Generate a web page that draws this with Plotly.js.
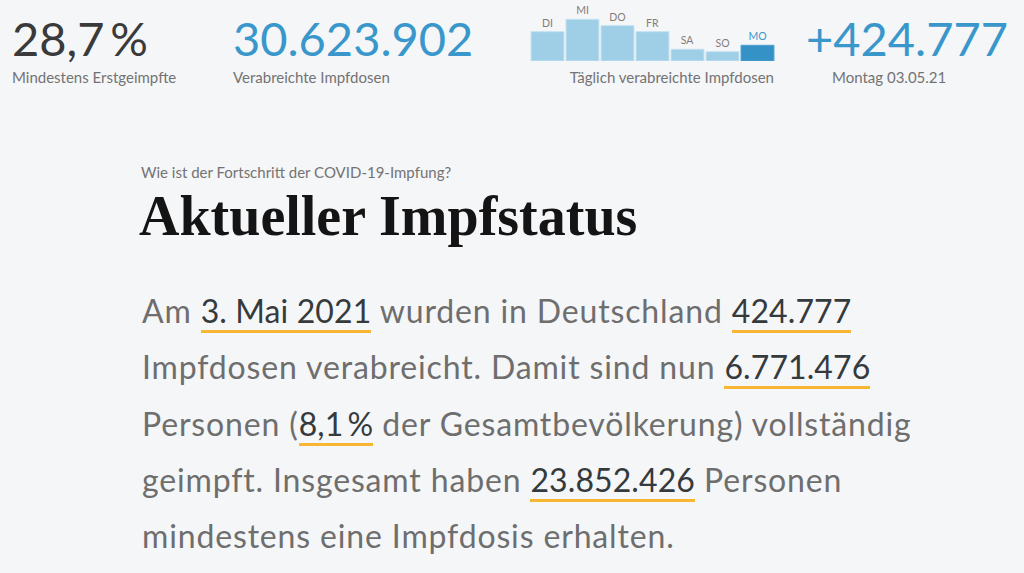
<!DOCTYPE html>
<html>
<head>
<meta charset="utf-8">
<script src="https://cdn.plot.ly/plotly-3.0.1.min.js"></script>
<style>
  html, body { margin: 0; padding: 0; background: #f5f6f8; }
  body { width: 1024px; height: 573px; position: relative; overflow: hidden; font-family: Lato, "Open Sans", sans-serif; color: #6e6e6e; }
  .abs { position: absolute; white-space: nowrap; line-height: 1; }
  .big { font-size: 47px; }
  .lbl { font-size: 15px; color: #737373; }
  .blue { color: #3997cb; }
  .dark { color: #3a3a3a; }
  #daily { position: absolute; left: 530px; top: 0; width: 245px; height: 62px; }
  #kicker { font-size: 15px; color: #737373; }
  #headline { font-family: "Liberation Serif", serif; font-weight: bold; font-size: 56px; color: #141414; letter-spacing: 0; }
  #story { position: absolute; left: 142px; top: 283px; font-size: 32px; letter-spacing: 0.85px; line-height: 56.3px; white-space: nowrap; color: #6e6e6e; }
  #story .hl { color: #353a3d; border-bottom: 3px solid #f7b733; letter-spacing: 0.1px; }
</style>
</head>
<body>
<div class="abs big dark" style="left:12px; top:15px;">28,7&thinsp;%</div>
<div class="abs lbl" style="left:12px; top:70px;">Mindestens Erstgeimpfte</div>
<div class="abs big blue" style="left:233px; top:15px;">30.623.902</div>
<div class="abs lbl" style="left:233px; top:70px;">Verabreichte Impfdosen</div>
<div id="daily"></div>
<div class="abs lbl" style="right:250px; top:70px;">Täglich verabreichte Impfdosen</div>
<div class="abs big blue" style="left:806px; top:15px;">+424.777</div>
<div class="abs lbl" style="left:832px; top:70px;">Montag 03.05.21</div>

<div id="kicker" class="abs" style="left:141px; top:165px;">Wie ist der Fortschritt der COVID-19-Impfung?</div>
<div id="headline" class="abs" style="left:139px; top:188px;">Aktueller Impfstatus</div>

<div id="story">
Am <span class="hl">3. Mai 2021</span> wurden in Deutschland <span class="hl">424.777</span><br>
Impfdosen verabreicht. Damit sind nun <span class="hl">6.771.476</span><br>
Personen (<span class="hl">8,1&thinsp;%</span> der Gesamtbevölkerung) vollständig<br>
geimpft. Insgesamt haben <span class="hl">23.852.426</span> Personen<br>
mindestens eine Impfdosis erhalten.
</div>

<script>
// doses per weekday, 27.04. - 03.05.2021
const days = ['DI', 'MI', 'DO', 'FR', 'SA', 'SO', 'MO'];
const doses = [793000, 1128000, 955000, 793000, 317000, 252000, 424777];

const barColors = days.map((d, i) => (i === days.length - 1 ? '#3492c6' : '#9fcee7'));
const edgeColors = days.map((d, i) => (i === days.length - 1 ? '#4a9fcf' : '#c3e1f1'));
const labelColors = days.map((d, i) => (i === days.length - 1 ? '#3b98cc' : '#857d78'));

const trace = {
  type: 'bar',
  x: days,
  y: doses,
  text: days,
  textposition: 'outside',
  cliponaxis: false,
  textfont: { family: 'Lato, sans-serif', size: 10.5, color: labelColors },
  marker: { color: barColors, line: { width: 1, color: edgeColors } },
  hoverinfo: 'none',
};

const layout = {
  width: 245,
  height: 62,
  margin: { l: 0, r: 0, t: 0, b: 1 },
  paper_bgcolor: 'rgba(0,0,0,0)',
  plot_bgcolor: 'rgba(0,0,0,0)',
  bargap: 0.06,
  showlegend: false,
  xaxis: { visible: false, fixedrange: true },
  yaxis: { visible: false, range: [0, 1650000], fixedrange: true },
};

Plotly.newPlot('daily', [trace], layout, { displayModeBar: false, staticPlot: true });
</script>
</body>
</html>
